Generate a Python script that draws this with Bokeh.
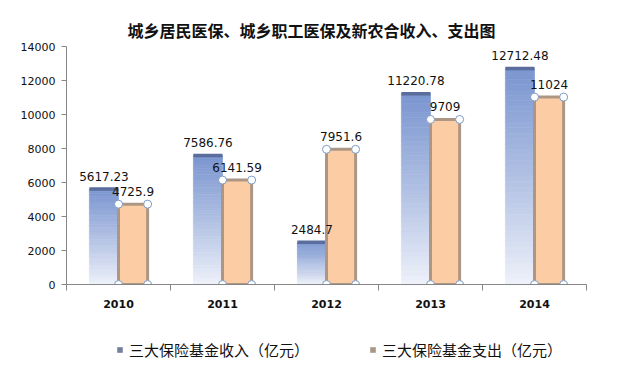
import numpy as np
from bokeh.plotting import figure
from bokeh.layouts import column
from bokeh.models import Range1d, FixedTicker, Legend, LegendItem, ColumnDataSource
from bokeh.core.properties import value
from bokeh.embed import file_html
from bokeh.resources import INLINE

# ---- data ----
years = ["2010", "2011", "2012", "2013", "2014"]
income = [5617.23, 7586.76, 2484.7, 11220.78, 12712.48]
expense = [4725.9, 6141.59, 7951.6, 9709, 11024]
series_names = ["三大保险基金收入（亿元）", "三大保险基金支出（亿元）"]
y_ticks = [0, 2000, 4000, 6000, 8000, 10000, 12000, 14000]
title_text = "城乡居民医保、城乡职工医保及新农合收入、支出图"

BAR_W = 0.28
N_SLICES = 40


def fmt(v):
    return ("%.2f" % v).rstrip("0").rstrip(".")


def hexc(rgb):
    return "#%02x%02x%02x" % tuple(int(round(c)) for c in rgb)


def mix(c0, c1, t):
    return [c0[j] + (c1[j] - c0[j]) * t for j in range(3)]


idx = np.arange(len(years))
x_inc = idx + 0.5 - BAR_W / 2
x_exp = idx + 0.5 + BAR_W / 2

W = 614
p = figure(width=W, height=318, x_range=Range1d(0, 5), y_range=Range1d(0, 14000),
           output_backend="svg", toolbar_location=None,
           min_border_left=66, min_border_right=28, min_border_top=46, min_border_bottom=34)
p.grid.visible = False
p.outline_line_color = None
p.background_fill_color = "white"
p.border_fill_color = "white"

p.title.text = title_text
p.title.text_font = "Noto Sans CJK SC"
p.title.text_font_size = "16px"
p.title.text_font_style = "bold"
p.title.align = "left"
p.title.offset = 61
p.title.text_color = "#111111"

# ---- income bars: vertical gradient ----
bottom_c = [240, 243, 250]
top_c = [122, 149, 208]
xs, bots, tops, cols = [], [], [], []
for i, v in enumerate(income):
    for k in range(N_SLICES):
        t = (k + 0.5) / N_SLICES
        xs.append(x_inc[i])
        bots.append(v * k / N_SLICES)
        tops.append(v * (k + 1) / N_SLICES)
        cols.append(hexc(mix(bottom_c, top_c, t ** 0.9)))
src = ColumnDataSource(dict(x=xs, bottom=bots, top=tops, color=cols))
p.vbar(x="x", width=BAR_W, bottom="bottom", top="top", fill_color="color",
       line_color="color", line_width=0.6, source=src)
# dark top edge
p.segment(x0=x_inc - BAR_W / 2, x1=x_inc + BAR_W / 2, y0=income, y1=income,
          line_color="#5a6d9c", line_width=3.5)

# ---- expense bars ----
p.vbar(x=x_exp, width=BAR_W, top=expense, bottom=0, fill_color="#fccda4",
       line_color="#ad9784", line_width=3)

# selection handles on expense bars
hx = list(x_exp - BAR_W / 2) + list(x_exp + BAR_W / 2) + list(x_exp - BAR_W / 2) + list(x_exp + BAR_W / 2)
hy = list(expense) + list(expense) + [0] * len(years) * 2
p.scatter(hx, hy, marker="circle", size=8, fill_color="white", line_color="#7d9cc4", line_width=1)

# ---- data labels ----
p.text(x=x_inc, y=income, text=[fmt(v) for v in income], text_align="center",
       text_baseline="alphabetic", y_offset=-13, text_font=value("DejaVu Sans"),
       text_font_size="12px", text_color="#111111")
p.text(x=x_exp, y=expense, text=[fmt(v) for v in expense], text_align="center",
       text_baseline="alphabetic", y_offset=-13, text_font=value("DejaVu Sans"),
       text_font_size="12px", text_color="#111111")

# ---- axes ----
p.yaxis.ticker = FixedTicker(ticks=y_ticks, minor_ticks=[])
p.xaxis.ticker = FixedTicker(ticks=list(idx + 0.5), minor_ticks=list(range(len(years) + 1)))
p.xaxis.major_label_overrides = {float(i + 0.5): y for i, y in enumerate(years)}
for ax in (p.xaxis, p.yaxis):
    ax.axis_line_color = "#868686"
    ax.major_label_text_font = "DejaVu Sans"
    ax.major_label_text_font_size = "11px"
    ax.major_label_text_color = "#111111"
    ax.major_label_standoff = 6
p.xaxis.major_label_standoff = 9
p.xaxis.major_label_text_font_style = "bold"
p.yaxis.major_tick_line_color = "#868686"
p.yaxis.major_tick_out = 5
p.yaxis.major_tick_in = 0
p.yaxis.minor_tick_line_color = None
p.xaxis.major_tick_line_color = None
p.xaxis.minor_tick_out = 6
p.xaxis.minor_tick_in = 0
p.xaxis.minor_tick_line_color = "#868686"

# ---- legend (separate strip below the chart) ----
lg = figure(width=W, height=51, x_range=Range1d(0, 1), y_range=Range1d(0, 1),
            output_backend="svg", toolbar_location=None,
            x_axis_location=None, y_axis_location=None,
            min_border_left=0, min_border_right=0, min_border_top=0, min_border_bottom=0)
lg.grid.visible = False
lg.outline_line_color = None
lg.border_fill_color = "white"
r1 = lg.quad(left=[5], right=[6], bottom=[5], top=[6], fill_color="#75819a", line_color=None)
r2 = lg.quad(left=[5], right=[6], bottom=[5], top=[6], fill_color="#a89686", line_color=None)
legend = Legend(items=[LegendItem(label=series_names[0], renderers=[r1]),
                       LegendItem(label=series_names[1], renderers=[r2])],
                orientation="horizontal", location=(50, 9),
                border_line_color=None, background_fill_alpha=0,
                label_text_font="Noto Sans CJK SC", label_text_font_size="15px",
                label_text_color="#111111",
                glyph_width=7, glyph_height=7, label_standoff=6, spacing=60,
                padding=2, margin=0)
lg.add_layout(legend, "center")

layout = column(p, lg, spacing=0)
open("out.html", "w").write(file_html(layout, INLINE))
